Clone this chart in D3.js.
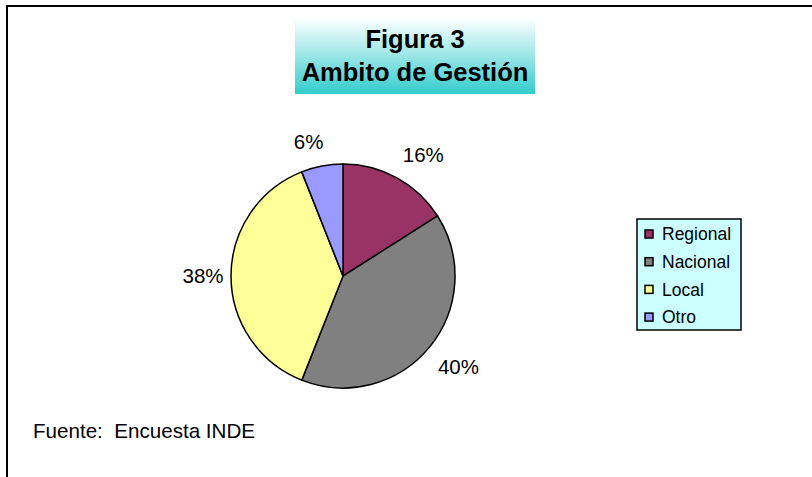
<!DOCTYPE html>
<html>
<head>
<meta charset="utf-8">
<script src="https://cdn.jsdelivr.net/npm/d3@7"></script>
<style>
  body { margin: 0; background: #fff; }
  svg { display: block; font-family: "Liberation Sans", Arial, sans-serif; }
</style>
</head>
<body>
<svg id="chart" width="812" height="477"></svg>
<script>
// Data
const categories = ["Regional", "Nacional", "Local", "Otro"];
const shares = [16, 40, 38, 6];
const colors = ["#993366", "#808080", "#FFFF99", "#9999FF"];
const titleLines = ["Figura 3", "Ambito de Gestión"];
const sourceNote = "Fuente:  Encuesta INDE";

const svg = d3.select("#chart");

// Outer frame (only top and left edges fall inside the window)
svg.append("rect")
  .attr("x", 7).attr("y", 6)
  .attr("width", 830).attr("height", 500)
  .attr("fill", "#fff")
  .attr("stroke", "#000")
  .attr("stroke-width", 2);

// Title box, white fading to turquoise
const defs = svg.append("defs");
const grad = defs.append("linearGradient")
  .attr("id", "titleGrad")
  .attr("x1", 0).attr("y1", 0).attr("x2", 0).attr("y2", 1);
grad.append("stop").attr("offset", "0%").attr("stop-color", "#ffffff");
grad.append("stop").attr("offset", "100%").attr("stop-color", "#33CCCC");

svg.append("rect")
  .attr("x", 295).attr("y", 18)
  .attr("width", 240).attr("height", 76)
  .attr("fill", "url(#titleGrad)");

svg.selectAll(".title")
  .data(titleLines)
  .enter().append("text")
    .attr("class", "title")
    .attr("x", 415)
    .attr("y", (d, i) => 48 + i * 33)
    .attr("text-anchor", "middle")
    .attr("font-weight", "bold")
    .attr("font-size", 25.5)
    .text(d => d);

// Pie, starts at 12 o'clock and runs clockwise
const cx = 343, cy = 276, radius = 112;
const pie = d3.pie().sort(null).value(d => d);
const arcs = pie(shares);
const arc = d3.arc().innerRadius(0).outerRadius(radius);

const g = svg.append("g").attr("transform", `translate(${cx},${cy})`);

g.selectAll("path")
  .data(arcs)
  .enter().append("path")
    .attr("d", arc)
    .attr("fill", (d, i) => colors[i])
    .attr("stroke", "#000")
    .attr("stroke-width", 1.5)
    .attr("stroke-linejoin", "round");

// Percentage labels outside the slices, nudged to where Excel put them
const labelArc = d3.arc().innerRadius(radius + 34).outerRadius(radius + 34);
const labelOffsets = [[10, 7], [3, -2], [6, 0], [-7, 9]];
g.selectAll(".pct")
  .data(arcs)
  .enter().append("text")
    .attr("class", "pct")
    .attr("x", (d, i) => labelArc.centroid(d)[0] + labelOffsets[i][0])
    .attr("y", (d, i) => labelArc.centroid(d)[1] + labelOffsets[i][1])
    .attr("dy", "0.35em")
    .attr("text-anchor", "middle")
    .attr("font-size", 20.5)
    .text(d => d.data + "%");

// Legend
const legend = svg.append("g").attr("transform", "translate(637,219)");
legend.append("rect")
  .attr("width", 104).attr("height", 111)
  .attr("fill", "#CCFFFF")
  .attr("stroke", "#000")
  .attr("stroke-width", 1.5);

const items = legend.selectAll(".item")
  .data(categories)
  .enter().append("g")
    .attr("class", "item")
    .attr("transform", (d, i) => `translate(0,${15 + i * 27.7})`);

items.append("rect")
  .attr("x", 8).attr("y", -4)
  .attr("width", 8).attr("height", 8)
  .attr("fill", (d, i) => colors[i])
  .attr("stroke", "#000")
  .attr("stroke-width", 1.5);

items.append("text")
  .attr("x", 25)
  .attr("dy", "0.36em")
  .attr("font-size", 17.5)
  .text(d => d);

// Source note
svg.append("text")
  .attr("x", 33).attr("y", 438)
  .attr("xml:space", "preserve")
  .style("white-space", "pre")
  .attr("font-size", 20.6)
  .text(sourceNote);
</script>
</body>
</html>
